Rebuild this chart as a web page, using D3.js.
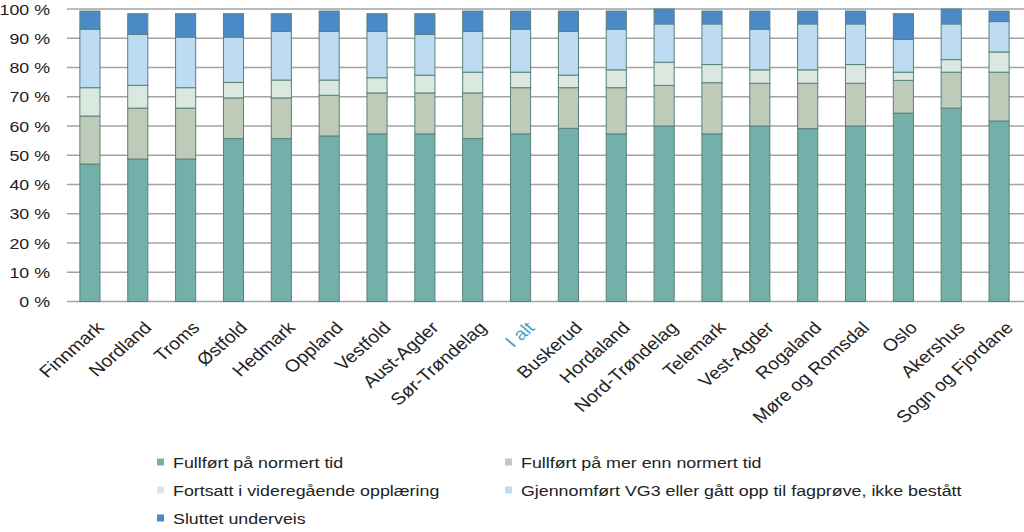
<!DOCTYPE html>
<html><head><meta charset="utf-8">
<script src="https://cdn.jsdelivr.net/npm/d3@7"></script>
<style>body{margin:0;background:#fff}svg{display:block}text{font-family:"Liberation Sans",Arial,sans-serif;}</style>
</head><body><svg id="c" width="1024" height="532"></svg>
<script>
const categories = ["Finnmark","Nordland","Troms","Østfold","Hedmark","Oppland","Vestfold","Aust-Agder","Sør-Trøndelag","I alt","Buskerud","Hordaland","Nord-Trøndelag","Telemark","Vest-Agder","Rogaland","Møre og Romsdal","Oslo","Akershus","Sogn og Fjordane"];
const seriesNames = ["Fullført på normert tid","Fullført på mer enn normert tid","Fortsatt i videregående opplæring","Gjennomført VG3 eller gått opp til fagprøve, ikke bestått","Sluttet underveis"];
const normertTid   = [47.0,48.7,48.7,55.7,55.7,56.6,57.3,57.3,55.7,57.3,59.2,57.3,60.0,57.3,60.0,59.1,60.0,64.4,66.1,61.7];
const merEnnNormert= [16.4,17.4,17.4,13.9,13.9,13.9,14.0,14.0,15.6,15.8,13.9,15.8,13.9,17.5,14.6,15.5,14.6,11.2,12.3,16.7];
const fortsatt     = [ 9.7, 7.8, 7.0, 5.3, 6.1, 5.2, 5.2, 6.1, 7.1, 5.3, 4.3, 6.1, 7.9, 6.2, 4.6, 4.6, 6.4, 2.8, 4.3, 6.9];
const gjennomfort  = [20.0,17.4,17.3,15.5,16.6,16.6,15.8,13.9,13.9,14.7,14.9,13.9,13.1,13.9,13.9,15.7,13.9,11.2,12.2,10.4];
const sluttet      = [ 6.2, 7.1, 8.0, 8.0, 6.1, 7.0, 6.1, 7.1, 7.0, 6.2, 7.0, 6.2, 5.1, 4.4, 6.2, 4.4, 4.4, 8.8, 5.1, 3.6];
const yTicks = [0,10,20,30,40,50,60,70,80,90,100];
const colors = ["#72b0a9","#bdcbb8","#dbe8e0","#bddcf1","#4a8bc7"];

const seriesValues = [normertTid, merEnnNormert, fortsatt, gjennomfort, sluttet];
const rows = categories.map((c,i)=>{const r={cat:c}; seriesNames.forEach((s,j)=>r[s]=seriesValues[j][i]); return r;});
const stacked = d3.stack().keys(seriesNames)(rows);

const svg = d3.select("#c");
const SX = 1.15, FS = 15.5;
const x = d3.scaleBand().domain(categories).range([66,1023]).paddingInner(0.58).paddingOuter(0.29);
const y = d3.scaleLinear().domain([0,100]).range([301.5,9]);

// gridlines
svg.append("g").selectAll("line").data(yTicks).join("line")
  .attr("x1",67).attr("x2",1024).attr("y1",d=>y(d)).attr("y2",d=>y(d))
  .attr("stroke","#a3a3a3").attr("stroke-width",1.5);

// y labels
svg.append("g").selectAll("text").data(yTicks).join("text")
  .attr("transform",d=>`translate(50,${y(d)}) scale(${SX},1)`)
  .attr("dy","0.36em").attr("text-anchor","end").attr("font-size",FS).attr("fill","#222")
  .text(d=>d+" %");

// bars
svg.append("g").selectAll("g").data(stacked).join("g")
  .attr("fill",(d,i)=>colors[i])
  .selectAll("rect").data(d=>d).join("rect")
  .attr("x",d=>x(d.data.cat)).attr("width",x.bandwidth())
  .attr("y",d=>y(d[1])).attr("height",d=>y(d[0])-y(d[1]))
  .attr("stroke","#5a807c").attr("stroke-width",1);

// x labels
svg.append("g").selectAll("text").data(categories).join("text")
  .attr("transform",d=>`translate(${x(d)+x.bandwidth()/2+15},328.8) scale(${SX},1) rotate(-45)`)
  .attr("text-anchor","end").attr("font-size",17)
  .attr("fill",d=>d==="I alt"?"#4a9ccc":"#222")
  .text(d=>d);

// legend
const legPos = [[157,462],[505,462],[157,490],[505,490],[157,518]];
const lg = svg.append("g").selectAll("g").data(seriesNames).join("g")
  .attr("transform",(d,i)=>`translate(${legPos[i][0]},${legPos[i][1]})`);
lg.append("rect").attr("x",0).attr("y",-3.5).attr("width",7).attr("height",7).attr("fill",(d,i)=>colors[i]);
lg.append("text").attr("transform",`translate(16,0) scale(${SX},1)`).attr("dy","0.36em")
  .attr("font-size",FS).attr("fill","#222").text(d=>d);
</script></body></html>
